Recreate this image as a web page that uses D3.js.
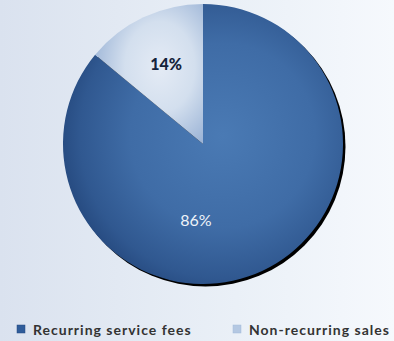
<!DOCTYPE html>
<html>
<head>
<meta charset="utf-8">
<script src="https://cdn.jsdelivr.net/npm/d3@7"></script>
<style>
  html, body { margin: 0; padding: 0; }
  svg { display: block; }
</style>
</head>
<body>
<div id="chart"></div>
<script>
// Revenue mix
const categories = ["Recurring service fees", "Non-recurring sales"];
const values = [86, 14];
const labels = ["86%", "14%"];

const width = 394, height = 341;
const cx = 203, cy = 144, r = 140;

const svg = d3.select("#chart").append("svg")
  .attr("width", width).attr("height", height);

const defs = svg.append("defs");

// background: soft horizontal wash
const bg = defs.append("linearGradient").attr("id", "bg")
  .attr("x1", 0).attr("x2", 1).attr("y1", 0).attr("y2", 0);
bg.append("stop").attr("offset", "0%").attr("stop-color", "#dae2ef");
bg.append("stop").attr("offset", "60%").attr("stop-color", "#eaf0f7");
bg.append("stop").attr("offset", "100%").attr("stop-color", "#f6f9fd");
svg.append("rect").attr("width", width).attr("height", height).attr("fill", "url(#bg)");

// slice fills: lighter toward the middle, darker at the rim
const gDark = defs.append("radialGradient").attr("id", "gDark")
  .attr("cx", 0.57).attr("cy", 0.47).attr("r", 0.6);
gDark.append("stop").attr("offset", "0%").attr("stop-color", "#4a7ab4");
gDark.append("stop").attr("offset", "55%").attr("stop-color", "#3f6ca6");
gDark.append("stop").attr("offset", "85%").attr("stop-color", "#305890");
gDark.append("stop").attr("offset", "100%").attr("stop-color", "#24477c");

const gLight = defs.append("radialGradient").attr("id", "gLight")
  .attr("cx", 0.6).attr("cy", 0.45).attr("r", 0.65);
gLight.append("stop").attr("offset", "0%").attr("stop-color", "#e4ebf5");
gLight.append("stop").attr("offset", "50%").attr("stop-color", "#d3dfee");
gLight.append("stop").attr("offset", "100%").attr("stop-color", "#9db5d7");

const shadow = defs.append("filter").attr("id", "shadow")
  .attr("x", "-10%").attr("y", "-10%").attr("width", "120%").attr("height", "120%");
shadow.append("feGaussianBlur").attr("stdDeviation", 0.6);

const fills = ["url(#gDark)", "url(#gLight)"];
const legendColors = ["#2f5c9a", "#b4c8e2"];
const labelColors = ["#eef3f9", "#15233b"];
const labelWeights = ["400", "900"];

const pie = d3.pie().sort(null).value(d => d);
const arcs = pie(values);
const arc = d3.arc().innerRadius(0).outerRadius(r);

const g = svg.append("g").attr("transform", `translate(${cx},${cy})`);

// drop shadow along the lower right rim
g.append("circle")
  .attr("cx", 2.5).attr("cy", 2.5).attr("r", r)
  .attr("fill", "#000")
  .attr("filter", "url(#shadow)");

g.selectAll("path.slice").data(arcs).enter().append("path")
  .attr("class", "slice")
  .attr("d", arc)
  .attr("fill", (d, i) => fills[i]);

// value labels
const labelPos = (d, i) => {
  if (i === 1) return d3.arc().innerRadius(0).outerRadius(r * 1.24).centroid(d);
  return [-r * 0.05, r * 0.56];
};
g.selectAll("text.val").data(arcs).enter().append("text")
  .attr("class", "val")
  .attr("x", (d, i) => labelPos(d, i)[0])
  .attr("y", (d, i) => labelPos(d, i)[1])
  .attr("text-anchor", "middle")
  .attr("dominant-baseline", "middle")
  .attr("font-family", "Lato, 'Open Sans', sans-serif")
  .attr("font-size", 16)
  .attr("font-weight", (d, i) => labelWeights[i])
  .attr("fill", (d, i) => labelColors[i])
  .text((d, i) => labels[i]);

// legend
const legendX = [17, 233];
const legend = svg.append("g");
const item = legend.selectAll("g").data(categories).enter().append("g")
  .attr("transform", (d, i) => `translate(${legendX[i]},325)`);
item.append("rect")
  .attr("width", 8).attr("height", 8)
  .attr("fill", (d, i) => legendColors[i])
  .attr("stroke", (d, i) => i === 0 ? "#244a80" : "#a3bad9")
  .attr("stroke-width", 0.5);
item.append("text")
  .attr("x", 16).attr("y", 9.5)
  .attr("font-family", "Lato, 'Open Sans', sans-serif")
  .attr("font-size", 14)
  .attr("font-weight", "700")
  .attr("letter-spacing", 1)
  .attr("fill", "#333")
  .text(d => d);
</script>
</body>
</html>
